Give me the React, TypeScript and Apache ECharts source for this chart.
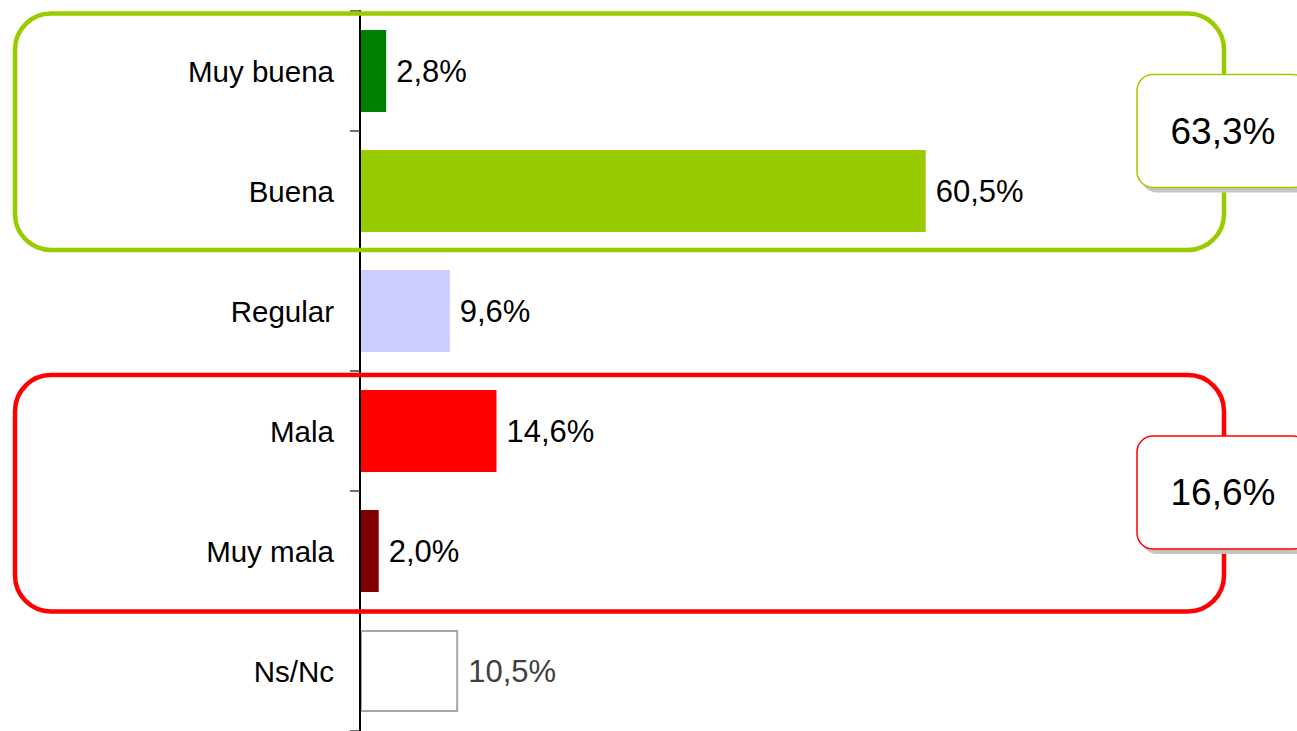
import React, { useEffect, useRef } from "react";
import * as echarts from "echarts";

const categories = ["Muy buena", "Buena", "Regular", "Mala", "Muy mala", "Ns/Nc"];
const values = [2.8, 60.5, 9.6, 14.6, 2.0, 10.5];
const barColors = ["#008000", "#99CC00", "#CCCCFF", "#FF0000", "#800000", "#FFFFFF"];
// groups: [first category index, last category index, total]
const groupFirst = [0, 3];
const groupLast = [1, 4];
const groupTotals = [63.3, 16.6];
const groupColors = ["#99CC00", "#FF0000"];

const fmt = (v: number) => v.toFixed(1).replace(".", ",") + "%";

const W = 1297;
const H = 731;
const GRID_LEFT = 360;
const GRID_TOP = 11;
const GRID_W = 935;
const GRID_H = 724;
const ANN_TOP = 10.5;
const ANN_BAND = 120.5;
const FONT = "'Liberation Sans', Arial, sans-serif";

export default function App() {
  const ref = useRef<HTMLDivElement>(null);
  useEffect(() => {
    if (!ref.current) return;
    const chart = echarts.init(ref.current, null, { renderer: "svg" });

    const graphics: any[] = [];
    groupTotals.forEach((total, g) => {
      const yTop = ANN_TOP + groupFirst[g] * ANN_BAND + 3;
      const yBot = ANN_TOP + (groupLast[g] + 1) * ANN_BAND - 1.5;
      graphics.push({
        type: "rect",
        z: 100,
        shape: { x: 15, y: yTop, width: 1209, height: yBot - yTop, r: 36 },
        style: { fill: "none", stroke: groupColors[g], lineWidth: 4.5 },
      });
      const cy = ANN_TOP + (groupFirst[g] + 1) * ANN_BAND;
      const bw = 172;
      const bh = 113;
      const bx = 1137;
      const by = cy - bh / 2;
      graphics.push({
        type: "rect",
        z: 101,
        shape: { x: bx + 4, y: by + 5, width: bw, height: bh, r: 16 },
        style: { fill: "#C4C4C4", stroke: "none" },
      });
      graphics.push({
        type: "rect",
        z: 102,
        shape: { x: bx, y: by, width: bw, height: bh, r: 16 },
        style: { fill: "#FFFFFF", stroke: groupColors[g], lineWidth: 1.5 },
      });
      graphics.push({
        type: "text",
        z: 103,
        x: 1223,
        y: cy,
        style: {
          text: fmt(total),
          fontSize: 37,
          fontFamily: FONT,
          fill: "#000000",
          align: "center",
          verticalAlign: "middle",
        },
      });
    });

    chart.setOption({
      animation: false,
      backgroundColor: "#FFFFFF",
      grid: { left: GRID_LEFT, top: GRID_TOP, width: GRID_W, height: GRID_H, containLabel: false },
      xAxis: {
        type: "value",
        min: 0,
        max: 100,
        show: false,
        splitLine: { show: false },
      },
      yAxis: {
        type: "category",
        inverse: true,
        data: categories,
        axisLine: { show: true, lineStyle: { color: "#000000", width: 2 } },
        axisTick: { show: true, length: 10, lineStyle: { color: "#404040", width: 1.5 } },
        axisLabel: { fontSize: 29.5, color: "#000000", margin: 26, fontFamily: FONT },
        z: 5,
      },
      series: [
        {
          type: "bar",
          barWidth: 82,
          data: values.map((v, i) => ({
            value: v,
            itemStyle: {
              color: barColors[i],
              borderColor: i === 5 ? "#A6A6A6" : barColors[i],
              borderWidth: i === 5 ? 2 : 0,
            },
            label: { color: i === 5 ? "#404040" : "#000000" },
          })),
          label: {
            show: true,
            position: "right",
            distance: 10,
            fontSize: 31,
            fontFamily: FONT,
            formatter: (p: any) => fmt(p.value),
          },
        },
      ],
      graphic: graphics,
    });
    return () => chart.dispose();
  }, []);

  return (
    <div
      ref={ref}
      style={{ position: "fixed", left: 0, top: 0, width: W, height: H, background: "#fff" }}
    />
  );
}
